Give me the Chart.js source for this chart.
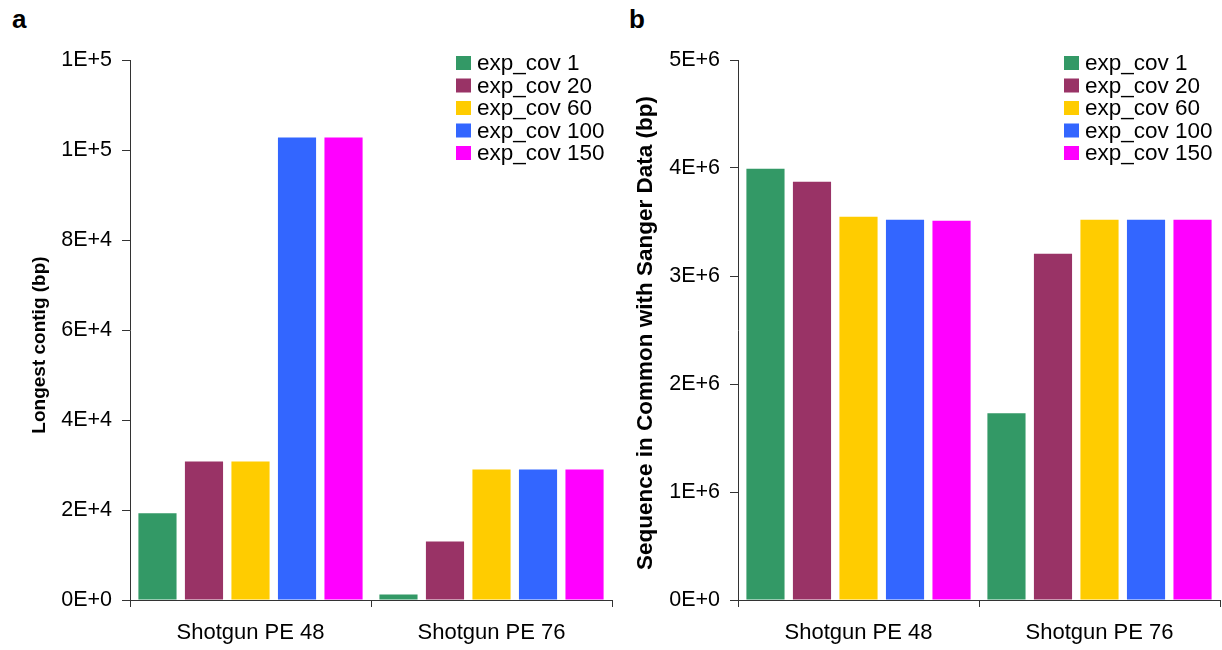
<!DOCTYPE html>
<html>
<head>
<meta charset="utf-8">
<script src="https://cdn.jsdelivr.net/npm/chart.js@4/dist/chart.umd.min.js"></script>
<style>
  html, body { margin: 0; padding: 0; background: #fff; }
  body { width: 1222px; height: 650px; position: relative; overflow: hidden;
         font-family: 'Liberation Sans', Arial, sans-serif; }
  .panel { position: absolute; top: 0; }
  .tag { position: absolute; font: bold 26px 'Liberation Sans', Arial, sans-serif;
         line-height: 26px; color: #000; }
</style>
</head>
<body>
<div class="tag" style="left:12px; top:6px;">a</div>
<div class="tag" style="left:629px; top:6px;">b</div>
<div class="panel" style="left:0px;"><canvas id="chartA" width="616" height="650"></canvas></div>
<div class="panel" style="left:608px;"><canvas id="chartB" width="614" height="650"></canvas></div>
<script>
// Assembly categories
const categories = ['Shotgun PE 48', 'Shotgun PE 76'];

// Series (expected coverage settings)
const seriesNames = ['exp_cov 1', 'exp_cov 20', 'exp_cov 60', 'exp_cov 100', 'exp_cov 150'];
const seriesColors = ['#339966', '#993366', '#FFCC00', '#3366FF', '#FF00FF'];

// Longest contig (bp), one array per series: [PE 48, PE 76]
const contigCov1   = [19300, 1250];
const contigCov20  = [30800, 13000];
const contigCov60  = [30800, 29000];
const contigCov100 = [102800, 29000];
const contigCov150 = [102800, 29000];

// Sequence in common with Sanger data (bp): [PE 48, PE 76]
const sangerCov1   = [3994000, 1729000];
const sangerCov20  = [3873000, 3207000];
const sangerCov60  = [3549000, 3521000];
const sangerCov100 = [3521000, 3521000];
const sangerCov150 = [3512000, 3521000];

// Y-axis tick values
const ticksA = [0, 20000, 40000, 60000, 80000, 100000, 120000];
const ticksB = [0, 1000000, 2000000, 3000000, 4000000, 5000000];

const FONT = "'Liberation Sans', Arial, sans-serif";
const AXIS_COLOR = '#333333';

// Legend drawn inside the plot, top right
const insideLegend = {
  id: 'insideLegend',
  afterDraw(chart, args, opts) {
    const ctx = chart.ctx;
    ctx.save();
    ctx.font = opts.fontSize + 'px ' + FONT;
    ctx.textBaseline = 'middle';
    ctx.textAlign = 'left';
    chart.data.datasets.forEach((ds, i) => {
      const cy = opts.y + i * opts.rowGap;
      ctx.fillStyle = ds.backgroundColor;
      ctx.fillRect(opts.x, cy - opts.boxH / 2, opts.boxW, opts.boxH);
      ctx.fillStyle = '#000';
      ctx.fillText(ds.label, opts.x + opts.boxW + 6, cy + 1);
    });
    ctx.restore();
  }
};

// Rotated y-axis title
const axisTitle = {
  id: 'axisTitle',
  afterDraw(chart, args, opts) {
    const ctx = chart.ctx;
    ctx.save();
    ctx.translate(opts.x, opts.y);
    ctx.rotate(-Math.PI / 2);
    ctx.font = 'bold ' + opts.fontSize + 'px ' + FONT;
    ctx.fillStyle = '#000';
    ctx.textAlign = 'center';
    ctx.textBaseline = 'middle';
    ctx.fillText(opts.text, 0, 0);
    ctx.restore();
  }
};

function expLabel(v) {
  return Number(v).toExponential(0).toUpperCase();
}

function makeChart(canvasId, seriesData, tickValues, maxVal, title, titlePos, titleSize, padRight) {
  const datasets = seriesNames.map((name, i) => ({
    label: name,
    data: seriesData[i],
    backgroundColor: seriesColors[i],
    borderWidth: 0,
    categoryPercentage: 0.965,
    barPercentage: 0.82
  }));
  return new Chart(document.getElementById(canvasId), {
    type: 'bar',
    data: { labels: categories, datasets },
    plugins: [insideLegend, axisTitle],
    options: {
      responsive: false,
      animation: false,
      devicePixelRatio: 1,
      layout: { padding: { top: 60, right: padRight, bottom: 0, left: 0 } },
      plugins: {
        legend: { display: false },
        tooltip: { enabled: false },
        insideLegend: { x: 456, y: 63, rowGap: 22.5, boxW: 15, boxH: 14, fontSize: 22.5 },
        axisTitle: { text: title, x: titlePos[0], y: titlePos[1], fontSize: titleSize }
      },
      scales: {
        x: {
          grid: { display: true, drawOnChartArea: false, drawTicks: true, tickLength: 7,
                  color: AXIS_COLOR, offset: true },
          border: { display: true, color: AXIS_COLOR, width: 1 },
          ticks: { color: '#000', padding: 13, font: { family: FONT, size: 22 }, maxRotation: 0 },
          afterFit(scale) { scale.height = 50; }
        },
        y: {
          min: 0,
          max: maxVal,
          afterBuildTicks(scale) { scale.ticks = tickValues.map(v => ({ value: v })); },
          grid: { display: true, drawOnChartArea: false, drawTicks: true, tickLength: 8,
                  color: AXIS_COLOR },
          border: { display: true, color: AXIS_COLOR, width: 1 },
          ticks: { color: '#000', padding: 10, font: { family: FONT, size: 21.5 },
                   callback: v => expLabel(v) },
          afterFit(scale) { scale.width = 130; }
        }
      }
    }
  });
}

makeChart('chartA',
  [contigCov1, contigCov20, contigCov60, contigCov100, contigCov150],
  ticksA, 120000, 'Longest contig (bp)', [40, 345], 19, 4);

makeChart('chartB',
  [sangerCov1, sangerCov20, sangerCov60, sangerCov100, sangerCov150],
  ticksB, 5000000, 'Sequence in Common with Sanger Data (bp)', [38, 333], 22.5, 2);
</script>
</body>
</html>
